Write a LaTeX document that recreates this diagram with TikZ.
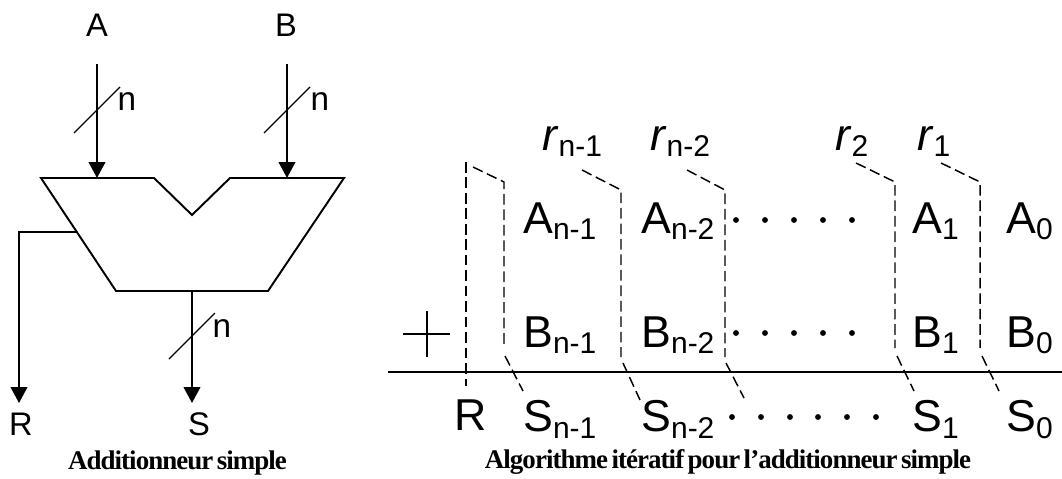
\documentclass[tikz,border=0pt]{standalone}
\usepackage{fontspec}
\setmainfont{Liberation Sans}
\newfontfamily\captionfont[LetterSpace=-3.5,WordSpace=0.6]{Liberation Serif}
\usetikzlibrary{arrows.meta,positioning}
\newcommand{\sublbl}[2]{#1\raisebox{-5.2pt}{\fontsize{22.5}{22.5}\selectfont #2}}
\tikzset{
  wire/.style={line width=1.45pt,draw=black},
  bus/.style={wire,-{Triangle[length=12pt,width=12.5pt]}},
  tick/.style={line width=1.05pt,draw=black},
  carry/.style={line width=1.1pt,dash pattern=on 8pt off 3.6pt,draw=black},
  sig/.style={inner sep=0pt,font=\fontsize{24.5}{24.5}\selectfont},
  width/.style={inner sep=0pt,font=\fontsize{25}{25}\selectfont},
  digit/.style={inner sep=0pt,anchor=base west,font=\fontsize{33.5}{33.5}\selectfont},
  captxt/.style={inner sep=0pt,anchor=base,font=\captionfont\bfseries\fontsize{20.2}{20.2}\selectfont},
}
\begin{document}
\begin{tikzpicture}[x=0.75pt,y=-0.75pt]
  \useasboundingbox (0,0) rectangle (1062,478);

  % adder block
  \node[sig] (siga) at (97,25) {A};
  \node[sig] (sigb) at (286,25) {B};
  \node[sig] (sigr) at (21,424) {R};
  \node[sig] (sigs) at (199,424) {S};
  \coordinate (ina) at (97,64);
  \coordinate (inb) at (287,64);
  \coordinate (enda) at (97,178);
  \coordinate (endb) at (287,178);
  \coordinate (outs) at (192,291);
  \coordinate (outr) at (76,232);
  \coordinate (tipr) at (19,403);
  \coordinate (tips) at (192,403);
  \draw[wire,line join=miter] (41,178) -- (154,178) -- (192,215) -- (230,178) -- (344,178)
    -- (268,291) -- (116,291) -- cycle;

  \draw[bus] (ina) -- (enda);
  \draw[bus] (inb) -- (endb);
  \draw[bus] (outs) -- (tips);
  \draw[bus] (outr) -| (tipr);

  \draw[tick] (74,133) -- (120,87);
  \draw[tick] (264,133) -- (310,87);
  \draw[tick] (169,359) -- (215,313);
  \node[width] (wa) at (127,102) {n};
  \node[width] (wb) at (320,102) {n};
  \node[width] (ws) at (222,329) {n};

  \node[captxt] (capadd) at (177.5,469) {Additionneur simple};

  % column sum
  \draw[wire,line width=1.6pt] (388,372) -- (1062,372);
  \draw[tick,line width=0.8pt] (403,334) -- (450,334);
  \draw[tick,line width=0.8pt] (427,311) -- (427,357);

  \node[digit] (rn1) at (542,150) {\sublbl{\textit{r}}{n-1}};
  \node[digit] (rn2) at (650,150) {\sublbl{\textit{r}}{n-2}};
  \node[digit] (r2) at (835,150) {\sublbl{\textit{r}}{2}};
  \node[digit] (r1) at (917,150) {\sublbl{\textit{r}}{1}};

  \node[digit] (an1) at (523,233) {\sublbl{A}{n-1}};
  \node[digit] (an2) at (641,233) {\sublbl{A}{n-2}};
  \node[digit] (a1) at (912,233) {\sublbl{A}{1}};
  \node[digit] (a0) at (1006,233) {\sublbl{A}{0}};

  \node[digit,below=85.5pt of an1.base west,anchor=base west] (bn1) {\sublbl{B}{n-1}};
  \node[digit,below=85.5pt of an2.base west,anchor=base west] (bn2) {\sublbl{B}{n-2}};
  \node[digit,below=85.5pt of a1.base west,anchor=base west] (b1) {\sublbl{B}{1}};
  \node[digit,below=85.5pt of a0.base west,anchor=base west] (b0) {\sublbl{B}{0}};

  \node[digit,below=63.2pt of bn1.base west,anchor=base west] (sn1) {\sublbl{S}{n-1}};
  \node[digit,below=63.2pt of bn2.base west,anchor=base west] (sn2) {\sublbl{S}{n-2}};
  \node[digit,below=63.2pt of b1.base west,anchor=base west] (s1) {\sublbl{S}{1}};
  \node[digit,below=63.2pt of b0.base west,anchor=base west] (s0) {\sublbl{S}{0}};
  \node[digit] (rout) at (454,430) {R};

  \fill (736,220) circle (2.2pt) (765,220) circle (2.2pt) (794,220) circle (2.2pt)
    (823,220) circle (2.2pt) (852,220) circle (2.2pt);
  \fill (736,333) circle (2.2pt) (765,333) circle (2.2pt) (794,333) circle (2.2pt)
    (823,333) circle (2.2pt) (852,333) circle (2.2pt);
  \fill (732,417) circle (2.2pt) (761,417) circle (2.2pt) (790,417) circle (2.2pt)
    (818,417) circle (2.2pt) (847,417) circle (2.2pt) (876,417) circle (2.2pt);

  \draw[carry] (466,162) -- (466,386);
  \draw[carry] (473,167) -- (504,182) -- (504,348);
  \draw[carry] (505,356) -- (523,391);
  \draw[carry] (582,170) -- (621,190) -- (621,357);
  \draw[carry] (623,363) -- (640,400);
  \draw[carry] (687,170) -- (725,190) -- (725,357);
  \draw[carry] (726,363) -- (744,398);
  \draw[carry] (856,163) -- (895,182) -- (895,348);
  \draw[carry] (897,356) -- (914,391);
  \draw[carry] (941,163) -- (980,182) -- (980,348);
  \draw[carry] (982,356) -- (999,391);

  \node[captxt] (capalg) at (728,468) {Algorithme itératif pour l’additionneur simple};
\end{tikzpicture}
\end{document}
